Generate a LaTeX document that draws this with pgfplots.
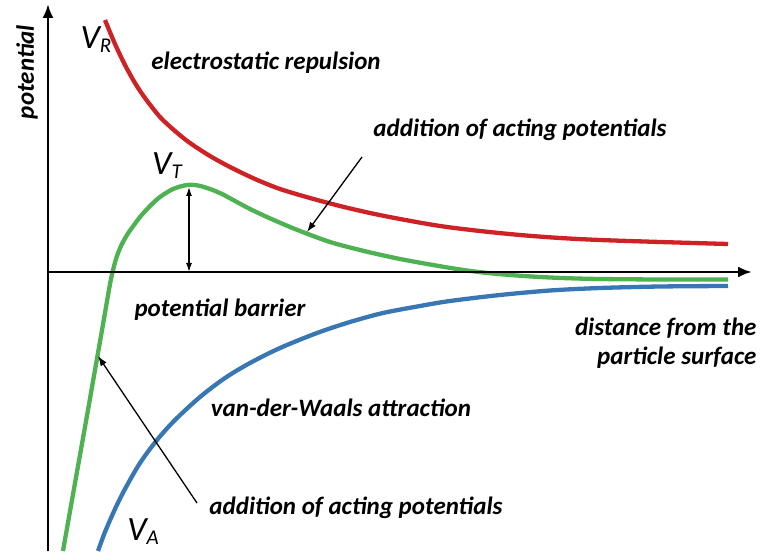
\documentclass[border=0pt]{standalone}
\usepackage{fontspec}
\setmainfont{Carlito}
\usepackage{pgfplots}
\pgfplotsset{compat=1.18}
\usetikzlibrary{arrows.meta}

\definecolor{rep}{RGB}{205,34,38}
\definecolor{tot}{RGB}{78,178,82}
\definecolor{att}{RGB}{56,118,180}

\newcommand{\lab}{\fontsize{25}{29}\selectfont\bfseries\itshape}
\newcommand{\V}[1]{{\fontsize{34}{36}\selectfont\itshape V\raisebox{-0.25ex}{\fontsize{21}{21}\selectfont #1}}}

\begin{document}
\begin{tikzpicture}
\begin{axis}[
  x=1pt, y=1pt,
  xmin=0, xmax=764, ymin=0, ymax=551,
  y dir=reverse,
  hide axis, clip=false,
  every axis plot/.append style={no markers, line width=4.3pt, smooth},
]
\path[draw=none] (axis cs:0,0) rectangle (axis cs:764,551);

% electrostatic repulsion
\addplot[rep] coordinates {
  (105,20) (115,44) (125,65) (135,83) (145,98) (160,117) (175,131)
  (190,143) (210,156) (230,167) (255,179) (280,189) (310,198) (340,206)
  (370,213) (400,219) (440,226) (480,231) (520,235) (560,238) (600,240)
  (660,242) (728,244)
};
% van der Waals attraction
\addplot[att] coordinates {
  (98,551) (105,532) (115,509) (125,489) (140,463) (157,440) (175,420)
  (200,397) (225,378) (250,363) (280,348) (317,333) (350,322) (383,313)
  (420,306) (450,301) (500,295) (550,290.5) (600,288) (660,286.5) (728,286)
};
% total
\addplot[tot] coordinates {
  (63,551) (72,500) (80,455) (88,410) (95,370) (101,336) (106,307)
  (111,279) (116,259) (121,246) (127,235) (134,225) (140,217) (150,206)
  (160,197) (173,189) (187,185) (198,185.5) (210,189) (222,194) (235,201)
  (250,209) (267,217) (283,224) (300,231) (330,242) (364,251) (400,259)
  (433,265) (460,269.5) (483,272.5) (510,275) (540,277) (570,278.3)
  (600,279) (660,279.5) (728,279.5)
};

% axes
\draw[line width=2.6pt, -{Latex[length=14pt,width=11pt]}] (axis cs:48,551) -- (axis cs:48,4);
\draw[line width=2.6pt, -{Latex[length=14pt,width=11pt]}] (axis cs:48,272) -- (axis cs:752,272);

% barrier and pointers
\draw[line width=1.3pt, {Latex[length=9pt,width=6pt]}-{Latex[length=9pt,width=6pt]}] (axis cs:189,187) -- (axis cs:189,272);
\draw[line width=1.3pt, -{Latex[length=10pt,width=7pt]}] (axis cs:362,157) -- (axis cs:307,232);
\draw[line width=1.3pt, -{Latex[length=10pt,width=7pt]}] (axis cs:197,503) -- (axis cs:98,356);

% labels
\node[rotate=90, font=\lab] at (axis cs:27,72) {potential};
\node[font=\lab] at (axis cs:266,63) {electrostatic repulsion};
\node[font=\lab] at (axis cs:520,130) {addition of acting potentials};
\node[font=\lab] at (axis cs:220,310) {potential barrier};
\node[font=\lab, align=right, anchor=east] at (axis cs:760,343) {distance from the\\particle surface};
\node[font=\lab] at (axis cs:341,408) {van-der-Waals attraction};
\node[font=\lab] at (axis cs:356,508) {addition of acting potentials};
\node at (axis cs:96,40) {\V{R}};
\node at (axis cs:167,166) {\V{T}};
\node at (axis cs:143,532) {\V{A}};
\end{axis}
\end{tikzpicture}
\end{document}
